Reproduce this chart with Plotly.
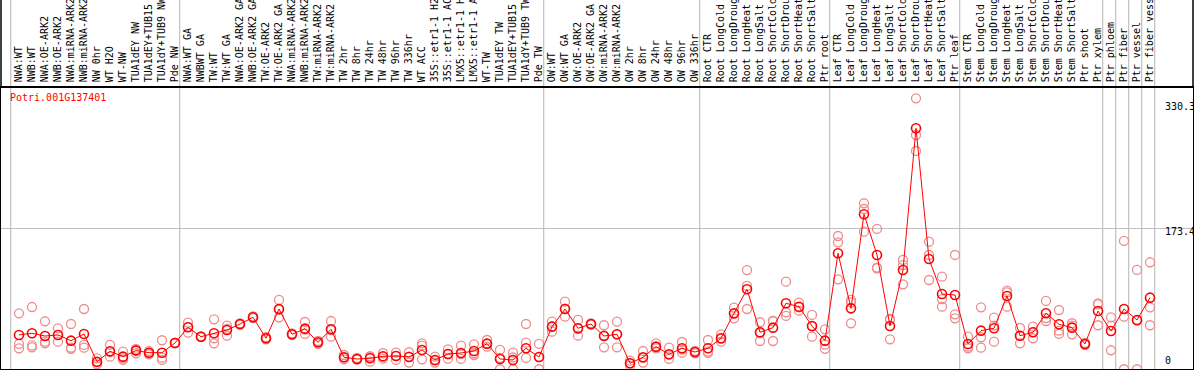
import plotly.graph_objects as go

labels = [
    "NWA:WT", "NWB:WT", "NWA:OE-ARK2", "NWB:OE-ARK2", "NWA:miRNA-ARK2", "NWB:miRNA-ARK2",
    "NW 0hr", "WT H2O", "WT-NW", "TUA1dEY NW", "TUA1dEY+TUB15", "TUA1dY+TUB9 NW", "Pde NW",
    "NWA:WT GA", "NWBWT GA", "TW:WT", "TW:WT GA", "NWA:OE-ARK2 GA", "NWB:OE-ARK2 GA",
    "TW:OE-ARK2", "TW:OE-ARK2 GA", "NWA:miRNA-ARK2", "NWB:miRNA-ARK2", "TW:miRNA-ARK2",
    "TW:miRNA-ARK2", "TW 2hr", "TW 8hr", "TW 24hr", "TW 48hr", "TW 96hr", "TW 336hr",
    "WT ACC", "35S::etr1-1 H2", "35S::etr1-1 AC", "LMX5::etr1-1 H", "LMX5::etr1-1 A",
    "WT-TW", "TUA1dEY TW", "TUA1dEY+TUB15", "TUA1dY+TUB9 TW", "Pde TW",
    "OW:WT", "OW:WT GA", "OW:OE-ARK2", "OW:OE-ARK2 GA", "OW:miRNA-ARK2", "OW:miRNA-ARK2",
    "OW 2hr", "OW 8hr", "OW 24hr", "OW 48hr", "OW 96hr", "OW 336hr",
    "Root CTR", "Root LongCold", "Root LongDroug", "Root LongHeat", "Root LongSalt",
    "Root ShortCold", "Root ShortDrou", "Root ShortHeat", "Root ShortSalt", "Ptr root",
    "Leaf CTR", "Leaf LongCold", "Leaf LongDroug", "Leaf LongHeat", "Leaf LongSalt",
    "Leaf ShortCold", "Leaf ShortDrou", "Leaf ShortHeat", "Leaf ShortSalt", "Ptr leaf",
    "Stem CTR", "Stem LongCold", "Stem LongDroug", "Stem LongHeat", "Stem LongSalt",
    "Stem ShortCold", "Stem ShortDrou", "Stem ShortHeat", "Stem ShortSalt", "Ptr shoot",
    "Ptr xylem", "Ptr phloem", "Ptr fiber", "Ptr vessel", "Ptr fiber vess",
]

means = [
    44.7, 46.7, 43.4, 44.7, 37.8, 45.9, 12.4, 25.0, 18.5, 25.8, 23.3, 23.3, 35.0,
    53.9, 42.6, 46.7, 50.7, 57.9, 66.0, 40.7, 76.0, 45.5, 52.3, 35.8, 51.5, 17.7,
    15.7, 16.5, 18.9, 19.3, 18.1, 26.6, 14.5, 21.7, 22.9, 25.3, 34.2, 15.7, 14.5,
    28.6, 18.1,
    54.7, 76.0, 52.7, 57.9, 43.4, 45.5, 10.5, 17.7, 30.6, 21.4, 28.6, 24.1,
    28.6, 40.7, 70.8, 99.8, 47.9, 53.5, 82.9, 78.8, 55.5, 37.8,
    143.2, 76.8, 190.3, 141.2, 55.5, 123.1, 294.1, 136.4, 94.1, 92.9,
    33.8, 49.9, 52.7, 91.7, 43.8, 47.9, 70.8, 57.6, 53.5, 33.8,
    73.6, 49.5, 76.0, 62.8, 89.7,
]

rep1 = [
    70.8, 78.4, 61.2, 52.7, 57.9, 76.0, 16.5, 32.6, 24.5, 26.5, 25.3, 38.3, 35.0,
    59.5, 42.6, 63.6, 55.9, 57.9, 66.0, 40.7, 86.9, 45.5, 60.3, 35.8, 61.5, 20.5,
    15.7, 17.5, 22.6, 23.3, 23.8, 34.6, 18.5, 27.4, 31.8, 33.4, 38.6, 26.6, 23.3,
    57.9, 33.8,
    60.7, 84.8, 62.8, 57.9, 56.4, 60.7, 13.6, 25.3, 34.6, 29.3, 36.2, 25.5,
    38.6, 45.5, 77.6, 123.0, 60.0, 61.9, 109.0, 83.6, 68.8, 51.5,
    164.1, 86.9, 203.6, 172.6, 62.8, 135.2, 330.3, 157.3, 115.0, 141.2,
    42.6, 78.0, 65.5, 98.1, 53.1, 54.7, 85.7, 74.8, 58.8, 33.8,
    82.9, 66.0, 158.1, 123.1, 132.4,
]

rep2 = [
    33.8, 29.8, 36.6, 36.6, 29.3, 32.6, 9.3, 18.5, 14.5, 22.6, 21.4, 17.3, 35.0,
    47.4, 42.0, 40.7, 43.8, 58.5, 67.0, 42.0, 66.0, 46.5, 45.9, 37.5, 42.6, 15.3,
    17.0, 12.4, 16.0, 14.5, 11.3, 31.8, 11.3, 16.1, 15.7, 20.5, 30.6, 3.3, 3.3,
    35.4, 3.3,
    48.6, 66.7, 43.8, 58.5, 29.8, 29.8, 7.6, 11.3, 28.6, 15.7, 23.3, 22.5,
    24.5, 36.6, 64.8, 103.8, 37.4, 37.4, 72.0, 78.0, 42.6, 28.0,
    156.5, 58.8, 196.7, 125.1, 39.4, 105.8, 286.0, 141.2, 78.8, 69.6,
    28.6, 41.9, 36.6, 96.0, 34.6, 40.7, 61.5, 49.9, 45.5, 32.5,
    56.4, 26.2, 66.7, 3.3, 78.0,
]

rep3 = [
    28.6, 32.0, 34.6, 44.7, 28.0, 29.3, 11.5, 24.0, 16.5, 28.0, 23.0, 14.5, 35.0,
    54.5, 43.0, 34.6, 52.0, 57.0, 65.0, 39.5, 75.0, 44.5, 51.0, 34.0, 50.5, 17.5,
    14.8, 19.0, 18.5, 19.5, 18.5, 15.3, 14.0, 21.7, 21.5, 22.5, 34.0, 17.0, 17.5,
    17.0, 18.0,
    55.0, 76.5, 52.0, 57.0, 44.0, 45.5, 10.5, 17.0, 30.0, 21.0, 27.0, 24.0,
    23.0, 40.0, 70.0, 76.0, 47.0, 61.0, 67.6, 74.0, 55.0, 33.0,
    111.8, 84.0, 169.3, 126.0, 64.0, 129.0, 266.7, 111.0, 88.0, 64.8,
    30.5, 29.3, 56.0, 78.8, 43.8, 48.0, 65.0, 45.9, 56.0, 35.0,
    81.5, 56.0, 3.3, 62.0, 56.4,
]

group_starts = [0, 13, 41, 53, 63, 73, 84, 85, 86, 87, 88]
gene_id = "Potri.001G137401"
y_marks = [330.3, 173.4, 0]

idx = list(range(len(labels)))
FONT = "DejaVu Sans Mono"

fig = go.Figure()

rep_color = "rgb(238,140,140)"
for rep in (rep1, rep2, rep3):
    fig.add_trace(go.Scatter(
        x=idx, y=rep, mode="markers",
        marker=dict(symbol="circle-open", size=9, color=rep_color, line=dict(width=1.3)),
        hoverinfo="skip", showlegend=False,
    ))

fig.add_trace(go.Scatter(
    x=idx, y=means, mode="lines+markers",
    line=dict(color="#ff0000", width=1),
    marker=dict(symbol="circle-open", size=9, color="#ff0000", line=dict(width=1.6)),
    showlegend=False,
))

shapes = []
for g in group_starts:
    shapes.append(dict(type="line", xref="x", yref="paper", x0=g - 0.64, x1=g - 0.64,
                       y0=0, y1=1.35, line=dict(color="#c0c0c0", width=1.2), layer="below"))
for px in (0, 1):
    shapes.append(dict(type="line", xref="paper", yref="paper", x0=px, x1=px,
                       y0=1, y1=1.35, line=dict(color="black", width=1.5)))

annotations = [
    dict(text=gene_id, xref="paper", yref="paper", x=0, y=1, xanchor="left", yanchor="top",
         xshift=7, yshift=-2, showarrow=False, font=dict(family=FONT, size=10, color="#ff0000")),
    dict(text=f"{y_marks[0]}", xref="paper", yref="y", x=0.9748, y=y_marks[0], xanchor="left",
         yanchor="middle", yshift=-8, showarrow=False, font=dict(family=FONT, size=10, color="black")),
    dict(text=f"{y_marks[1]}", xref="paper", yref="y", x=0.9748, y=y_marks[1], xanchor="left",
         yanchor="middle", yshift=-3, showarrow=False, font=dict(family=FONT, size=10, color="black")),
    dict(text=f"{y_marks[2]}", xref="paper", yref="paper", x=0.9748, y=0, xanchor="left",
         yanchor="bottom", yshift=1, showarrow=False, font=dict(family=FONT, size=10, color="black")),
]

fig.update_layout(
    width=1194, height=370,
    margin=dict(l=1, r=1, t=88, b=1, pad=0),
    paper_bgcolor="white", plot_bgcolor="white",
    showlegend=False,
    shapes=shapes, annotations=annotations,
    xaxis=dict(
        range=[-18 / 13, -18 / 13 + 1192 / 13],
        tickvals=idx, ticktext=labels, side="top", tickangle=-90,
        tickfont=dict(family=FONT, size=10, color="black"),
        ticks="", showgrid=False, zeroline=False, automargin=False,
        showline=True, linecolor="black", linewidth=1.5, mirror=True,
        ticklabelstandoff=2,
    ),
    yaxis=dict(
        range=[3.6, 342.7],
        tickvals=[y_marks[1]], showticklabels=False, ticks="",
        showgrid=True, gridcolor="#c0c0c0", gridwidth=1.2, zeroline=False, automargin=False,
        showline=True, linecolor="black", linewidth=1.5, mirror=True,
    ),
)

fig.write_html("out.html", config={"displayModeBar": False},
               post_script="document.body.style.margin='0';document.body.style.overflow='hidden';")
